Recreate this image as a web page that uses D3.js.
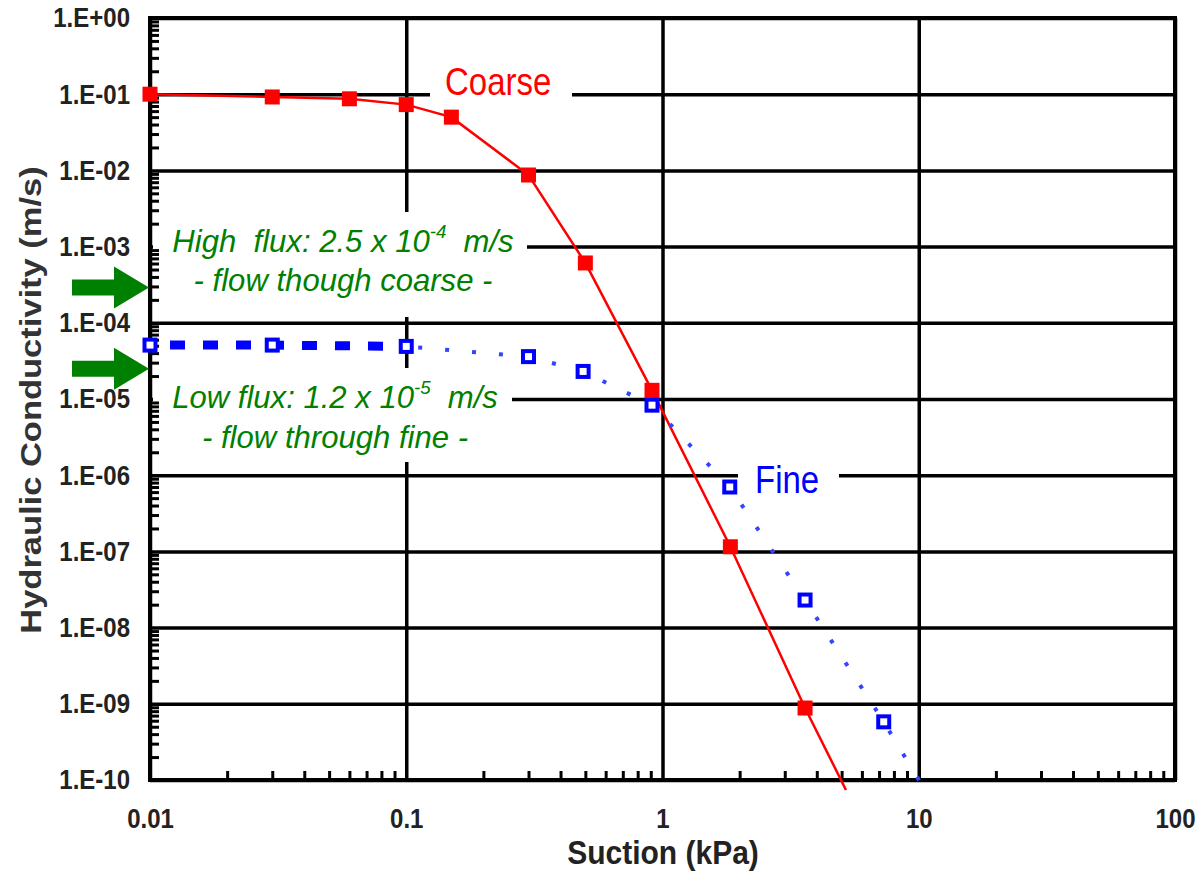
<!DOCTYPE html>
<html>
<head>
<meta charset="utf-8">
<script src="https://cdn.jsdelivr.net/npm/d3@7.9.0/dist/d3.min.js"></script>
<style>
  body { margin: 0; background: #fff; }
  svg { display: block; font-family: "Liberation Sans", Arial, sans-serif; }
  text { white-space: pre; }
</style>
</head>
<body>
<svg width="1198" height="873"></svg>
<script>
// values
const coarseSuction = [0.01, 0.03, 0.06, 0.1, 0.15, 0.3, 0.5, 0.91, 1.84, 3.6, 5.2];
const coarseK = [1e-1, 9.2e-2, 8.7e-2, 7.3e-2, 5.0e-2, 8.7e-3, 6.1e-4, 1.3e-5, 1.15e-7, 8.8e-10, 7.4e-11];
const fineSuction = [0.01, 0.03, 0.1, 0.3, 0.49, 0.91, 1.83, 3.6, 7.3, 10.4];
const fineK = [5.1e-5, 5.1e-5, 4.9e-5, 3.6e-5, 2.3e-5, 8.3e-6, 7.0e-7, 2.3e-8, 5.8e-10, 8.1e-11];
const fluxArrows = [2.9e-4, 2.5e-5];

const xTicks = [0.01, 0.1, 1, 10, 100];
const xTickLabels = ['0.01', '0.1', '1', '10', '100'];
const yTicks = [1, 1e-1, 1e-2, 1e-3, 1e-4, 1e-5, 1e-6, 1e-7, 1e-8, 1e-9, 1e-10];
const yTickLabels = ['1.E+00', '1.E-01', '1.E-02', '1.E-03', '1.E-04', '1.E-05',
  '1.E-06', '1.E-07', '1.E-08', '1.E-09', '1.E-10'];

const svg = d3.select('svg');
const mLeft = 150, mRight = 1175, mTop = 18, mBottom = 780;
const SY = 1.15; // the original is a bit taller than wide

const x = d3.scaleLog().domain([0.01, 100]).range([mLeft, mRight]);
const y = d3.scaleLog().domain([1e-10, 1]).range([mBottom, mTop]);

// minor tick values (2..9 in each decade)
let xMinor = [], yMinor = [];
for (let e = -2; e < 2; e++) for (let m = 2; m < 10; m++) xMinor.push(m * Math.pow(10, e));
for (let e = -10; e < 0; e++) for (let m = 2; m < 10; m++) yMinor.push(m * Math.pow(10, e));

// grid + labels
let gy = svg.append('g').attr('transform', `translate(${mLeft},0)`)
  .call(d3.axisLeft(y).tickValues(yTicks).tickFormat((d, i) => yTickLabels[i])
    .tickSize(-(mRight - mLeft)).tickPadding(20));
let gx = svg.append('g').attr('transform', `translate(0,${mBottom})`)
  .call(d3.axisBottom(x).tickValues(xTicks).tickFormat((d, i) => xTickLabels[i])
    .tickSize(-(mBottom - mTop)).tickPadding(25));

[gx, gy].forEach(g => {
  g.select('.domain').remove();
  g.selectAll('line').attr('stroke', '#000').attr('stroke-width', 3.5);
  g.selectAll('text')
    .attr('font-family', '"Liberation Sans", Arial, sans-serif')
    .attr('font-size', 24).attr('font-weight', 'bold').attr('fill', '#222')
    .attr('transform', `scale(1,${SY})`);
});

// white boxes behind the labels
const boxes = [
  [153, 212, 527, 317],
  [153, 368, 512, 462],
  [430, 64, 572, 101],
  [738, 464, 839, 502]
];
svg.append('g').selectAll('rect').data(boxes).join('rect')
  .attr('x', d => d[0]).attr('y', d => d[1])
  .attr('width', d => d[2] - d[0]).attr('height', d => d[3] - d[1])
  .attr('fill', '#fff');

// minor ticks
let my = svg.append('g').attr('transform', `translate(${mLeft},0)`)
  .call(d3.axisLeft(y).tickValues(yMinor).tickFormat('').tickSize(-9));
let mx = svg.append('g').attr('transform', `translate(0,${mBottom})`)
  .call(d3.axisBottom(x).tickValues(xMinor).tickFormat('').tickSize(-9));
[mx, my].forEach(g => {
  g.select('.domain').remove();
  g.selectAll('line').attr('stroke', '#000').attr('stroke-width', 3);
});

// frame
svg.append('rect')
  .attr('x', mLeft).attr('y', mTop)
  .attr('width', mRight - mLeft).attr('height', mBottom - mTop)
  .attr('fill', 'none').attr('stroke', '#000').attr('stroke-width', 4);

// axis titles
svg.append('text')
  .attr('transform', `translate(663,864) scale(1,1.1)`)
  .attr('text-anchor', 'middle')
  .attr('font-size', 30).attr('font-weight', 'bold').attr('fill', '#222')
  .text('Suction (kPa)');
svg.append('text')
  .attr('transform', `translate(41,400) rotate(-90) scale(${SY},1)`)
  .attr('text-anchor', 'middle')
  .attr('font-size', 30).attr('font-weight', 'bold').attr('fill', '#333')
  .text('Hydraulic Conductivity (m/s)');

// annotations
function note(cx, by, parts, opts) {
  let t = svg.append('text')
    .attr('transform', `translate(${cx},${by}) scale(${opts.sx || 1},${opts.sy || SY})`)
    .attr('text-anchor', opts.anchor || 'middle')
    .attr('font-size', opts.size)
    .attr('font-style', opts.italic ? 'italic' : 'normal')
    .attr('fill', opts.color);
  parts.forEach(p => {
    let s = t.append('tspan').text(p.t);
    if (p.sup) s.attr('font-size', opts.size * 0.6).attr('dy', -opts.size * 0.45);
    if (p.down) s.attr('dy', opts.size * 0.45);
  });
  return t;
}
const green = '#008000';
const noteStyle = { size: 28, italic: true, color: green, sx: 1.11, sy: 1.1 };

note(343, 252, [{ t: 'High  flux: 2.5 x 10' }, { t: '-4', sup: true }, { t: '  m/s', down: true }], noteStyle);
note(343, 291, [{ t: '- flow though coarse -' }], noteStyle);
note(335, 408, [{ t: 'Low flux: 1.2 x 10' }, { t: '-5', sup: true }, { t: '  m/s', down: true }], noteStyle);
note(335, 448, [{ t: '- flow through fine -' }], noteStyle);

note(445, 95, [{ t: 'Coarse' }], { size: 33, color: '#ff0000', anchor: 'start' });
note(755, 493, [{ t: 'Fine' }], { size: 33, color: '#0000ff', anchor: 'start' });

// series
const coarse = coarseSuction.map((s, i) => ({ s, k: coarseK[i] }));
const fine = fineSuction.map((s, i) => ({ s, k: fineK[i] }));
const line = d3.line().x(d => x(d.s)).y(d => y(d.k));

svg.append('path').datum(coarse)
  .attr('d', line).attr('fill', 'none')
  .attr('stroke', '#f00').attr('stroke-width', 2.5);

svg.append('path').datum(fine.slice(0, 3))
  .attr('d', line).attr('fill', 'none')
  .attr('stroke', '#0000ff').attr('stroke-width', 9)
  .attr('stroke-dasharray', '15,18').attr('stroke-dashoffset', -20);
svg.append('path').datum(fine.slice(2))
  .attr('d', line).attr('fill', 'none')
  .attr('stroke', '#3344ff').attr('stroke-width', 4)
  .attr('stroke-dasharray', '4,23').attr('stroke-dashoffset', -12);

svg.append('g').selectAll('rect').data(coarse.filter(d => d.k >= 1e-10)).join('rect')
  .attr('x', d => x(d.s) - 7.5).attr('y', d => y(d.k) - 7.5)
  .attr('width', 15).attr('height', 15)
  .attr('fill', '#f00');

svg.append('g').selectAll('rect').data(fine.filter(d => d.k >= 1e-10)).join('rect')
  .attr('x', d => x(d.s) - 5.5).attr('y', d => y(d.k) - 5.5)
  .attr('width', 11).attr('height', 11)
  .attr('fill', '#fff').attr('stroke', '#0000ff').attr('stroke-width', 4);

// flux arrows outside the plot
const arrowShape = [[0, 0], [-35, -21], [-35, -8], [-77, -8], [-77, 8], [-35, 8], [-35, 21]];
svg.append('g').selectAll('polygon').data(fluxArrows).join('polygon')
  .attr('points', d => arrowShape.map(p => [mLeft - 1 + p[0], y(d) + p[1]].join(',')).join(' '))
  .attr('fill', green);
</script>
</body>
</html>
